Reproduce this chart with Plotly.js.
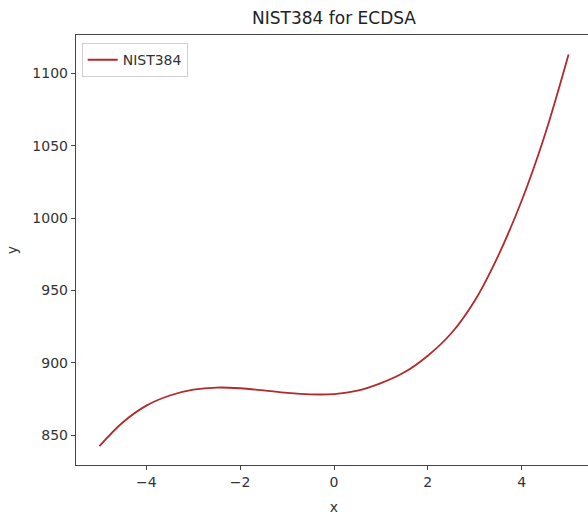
<!DOCTYPE html>
<html>
<head>
<meta charset="utf-8">
<script src="https://cdn.plot.ly/plotly-3.0.1.min.js"></script>
<style>
html, body { margin: 0; padding: 0; overflow: hidden; background: #fff; }
#chart { width: 600px; height: 516px; }
</style>
</head>
<body>
<div id="chart"></div>
<script>
// Values
const xValues = [-5.0, -4.5, -4.0, -3.5, -3.0, -2.5, -2.0, -1.5, -1.0, -0.5, 0.0, 0.5, 1.0, 1.5, 2.0, 2.5, 3.0, 3.5, 4.0, 4.5, 5.0];
const yValues = [842.5, 859.0, 870.5, 877.5, 881.5, 883.0, 882.5, 881.0, 879.3, 878.3, 878.5, 880.8, 886.0, 893.5, 905.0, 920.5, 943.0, 974.0, 1012.0, 1058.0, 1113.0];
const seriesName = 'NIST384';
const xTicks = [-4, -2, 0, 2, 4];
const yTicks = [850, 900, 950, 1000, 1050, 1100];

const font = { family: 'DejaVu Sans, sans-serif', size: 14, color: '#333' };

const trace = {
  x: xValues,
  y: yValues,
  type: 'scatter',
  mode: 'lines',
  name: seriesName,
  line: { color: '#b22a2c', width: 1.8, shape: 'spline', smoothing: 1 }
};

const axisCommon = {
  showgrid: false,
  zeroline: false,
  showline: true,
  mirror: true,
  linecolor: '#444',
  linewidth: 1.2,
  ticks: 'outside',
  ticklen: 4,
  tickwidth: 1,
  tickcolor: '#444',
  tickfont: font
};

const layout = {
  width: 600,
  height: 516,
  margin: { l: 76, r: 8, t: 35, b: 51 },
  paper_bgcolor: '#fff',
  plot_bgcolor: '#fff',
  font: font,
  title: { text: 'NIST384 for ECDSA', font: { family: 'DejaVu Sans, sans-serif', size: 17, color: '#222' }, xref: 'paper', x: 0.5, xanchor: 'center', y: 0.965, yanchor: 'middle' },
  xaxis: Object.assign({}, axisCommon, {
    range: [-5.5, 5.5],
    tickvals: xTicks,
    ticktext: xTicks.map(v => v < 0 ? '\u2212' + Math.abs(v) : String(v)),
    title: { text: 'x', font: font, standoff: 13 }
  }),
  yaxis: Object.assign({}, axisCommon, {
    range: [829.5, 1126.5],
    tickvals: yTicks,
    title: { text: 'y', font: font, standoff: 11 }
  }),
  showlegend: true,
  legend: {
    x: 0.011, y: 0.981, xanchor: 'left', yanchor: 'top',
    bgcolor: 'rgba(255,255,255,0.8)',
    bordercolor: '#d0d0d0', borderwidth: 1,
    font: font,
    itemwidth: 30
  }
};

Plotly.newPlot('chart', [trace], layout, { displayModeBar: false, staticPlot: true });
</script>
</body>
</html>
